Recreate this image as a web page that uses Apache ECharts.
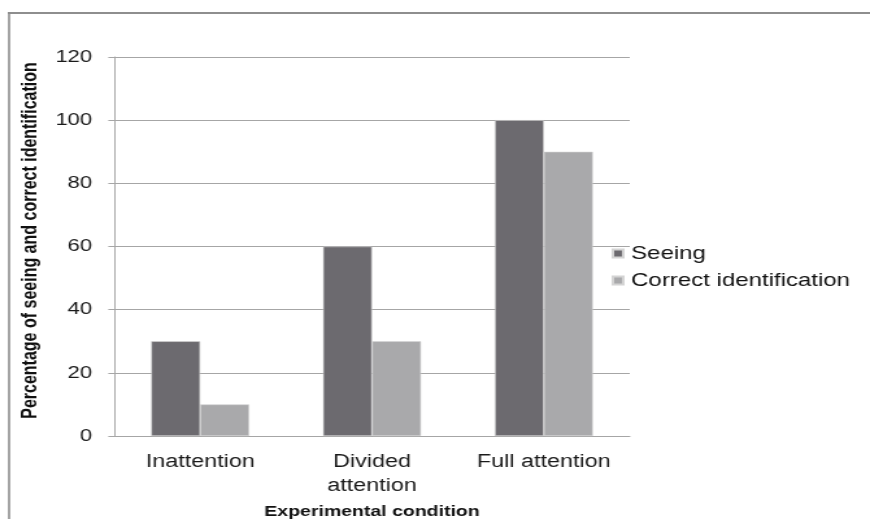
<!DOCTYPE html>
<html>
<head>
<meta charset="utf-8">
<script src="https://cdn.jsdelivr.net/npm/echarts@6/dist/echarts.min.js"></script>
<style>
  html, body { margin: 0; padding: 0; background: #fff; overflow: hidden; }
  /* the chart is laid out narrower and then widened to the 870px frame */
  #chart { width: 670px; height: 519px; transform: scaleX(1.2985); transform-origin: 0 0; }
</style>
</head>
<body>
<div id="chart"></div>
<script>
// Experimental conditions and the two measured percentages
const categories = ['Inattention', 'Divided\nattention', 'Full attention'];
const seeing = [30, 60, 100];
const correctIdentification = [10, 30, 90];
const seriesNames = ['Seeing', 'Correct identification'];

const chart = echarts.init(document.getElementById('chart'), null, { renderer: 'canvas' });

const FONT = 'Liberation Sans, Arial, sans-serif';
const FRAME = '#8e8e8e';
const AXIS = '#a6a6a6';

chart.setOption({
  animation: false,
  backgroundColor: '#ffffff',
  graphic: [
    { type: 'line', shape: { x1: 7, y1: 12, x2: 7, y2: 519 }, style: { stroke: FRAME, lineWidth: 1.6 } },
    { type: 'line', shape: { x1: 6, y1: 13, x2: 670, y2: 13 }, style: { stroke: FRAME, lineWidth: 2 } }
  ],
  grid: { left: 88, right: 185, top: 57, bottom: 83, containLabel: false, outerBoundsMode: 'none' },
  legend: {
    orient: 'vertical',
    left: 471,
    top: 244,
    padding: 0,
    itemWidth: 8,
    itemHeight: 8,
    itemGap: 8,
    icon: 'rect',
    data: seriesNames,
    textStyle: { fontFamily: FONT, fontSize: 18.5, color: '#111', padding: [0, 0, 0, 1] }
  },
  xAxis: {
    type: 'category',
    data: categories,
    name: 'Experimental condition',
    nameLocation: 'middle',
    nameGap: 68,
    nameTextStyle: { fontFamily: FONT, fontSize: 15, fontWeight: 'bold', color: '#111' },
    axisLine: { lineStyle: { color: AXIS, width: 1 } },
    axisTick: { show: false },
    axisLabel: { fontFamily: FONT, fontSize: 18, color: '#1a1a1a', margin: 14, lineHeight: 24, interval: 0 }
  },
  yAxis: {
    type: 'value',
    min: 0,
    max: 120,
    interval: 20,
    name: 'Percentage of seeing and correct identification',
    nameLocation: 'middle',
    nameGap: 47,
    nameTextStyle: { fontFamily: FONT, fontSize: 16, fontWeight: 'bold', color: '#111', padding: [0, 0, 0, 12] },
    axisLine: { show: true, lineStyle: { color: AXIS, width: 1 } },
    axisTick: { show: true, length: 4.6, lineStyle: { color: AXIS } },
    axisLabel: { fontFamily: FONT, fontSize: 17, color: '#1a1a1a', margin: 17 },
    splitLine: { lineStyle: { color: AXIS, width: 1 } }
  },
  series: [
    {
      name: seriesNames[0],
      type: 'bar',
      data: seeing,
      barGap: '0%',
      barCategoryGap: '43%',
      itemStyle: { color: '#6c6a6f', borderColor: '#d4d4d4', borderWidth: 0.6 }
    },
    {
      name: seriesNames[1],
      type: 'bar',
      data: correctIdentification,
      itemStyle: { color: '#a9a9ab', borderColor: '#d4d4d4', borderWidth: 0.6 }
    }
  ]
});
</script>
</body>
</html>
